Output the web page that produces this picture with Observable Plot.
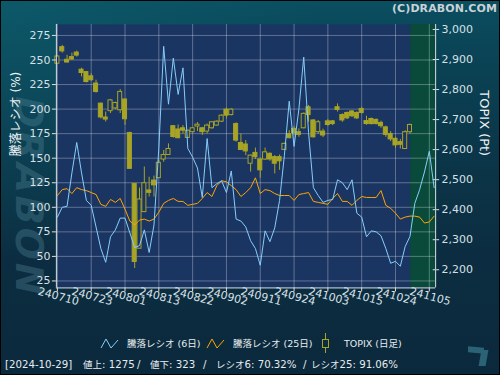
<!DOCTYPE html>
<html><head><meta charset="utf-8">
<script src="https://cdn.jsdelivr.net/npm/d3@7"></script>
<script src="https://cdn.jsdelivr.net/npm/@observablehq/plot@0.6"></script>
<style>
html,body{margin:0;padding:0;background:#0c2a3d;}
#wrap{position:relative;width:500px;height:375px;box-sizing:border-box;border:1px solid #000;overflow:hidden;
 background:
  radial-gradient(ellipse 320px 260px at 0px 0px, rgba(14,96,112,0.55), rgba(14,96,112,0) 100%),
  linear-gradient(180deg,#0a4f61 0%,#0a4557 12%,#0b3649 40%,#0c2d41 68%,#0b293c 100%);
 font-family:"DejaVu Sans","Noto Sans CJK JP",sans-serif;color:#e6ecef;}
#chart{position:absolute;left:-1px;top:-1px;}
.abs{position:absolute;white-space:pre;}
#copy{right:2px;top:1px;font-weight:bold;font-size:11px;color:#c9d2d7;letter-spacing:0.1px;}
#wm{left:28px;top:196px;transform:translate(-50%,-50%) rotate(90deg) skewX(-12deg);font-weight:bold;font-size:38px;letter-spacing:3px;color:rgba(80,130,148,0.38);}
.lg{font-size:9.5px;line-height:12px;color:#e6ecef;}
.ft{top:357px;font-size:10.2px;line-height:14px;color:#e6ecef;}
.ft .cj{font-size:9.5px;}
.logo{position:absolute;background:#2c6276;}
</style></head>
<body>
<div id="wrap">
 <div id="wm" class="abs">DRABON</div>
 <div id="chart"></div>
 <div id="copy" class="abs">(C)DRABON.COM</div>
 <svg class="abs" style="left:99px;top:337px" width="19" height="11"><polyline points="1,10 6,1 11,10 18,2" stroke="#87cefa" fill="none" stroke-width="1"/></svg>
 <div class="abs lg" style="left:126px;top:337px">騰落レシオ (6日)</div>
 <svg class="abs" style="left:205px;top:337px" width="19" height="11"><polyline points="1,10 6,1 11,10 18,2" stroke="#ffa500" fill="none" stroke-width="1"/></svg>
 <div class="abs lg" style="left:232px;top:337px">騰落レシオ (25日)</div>
 <svg class="abs" style="left:320px;top:332px" width="10" height="21"><line x1="4.5" y1="0" x2="4.5" y2="20" stroke="#a8a425"/><rect x="1.5" y="6.5" width="6" height="8" fill="#0c2c40" stroke="#a8a425"/></svg>
 <div class="abs lg" style="left:343px;top:337px">TOPIX (日足)</div>
 <div class="logo" style="left:467px;top:346px;width:16px;height:6px;transform:skewY(6deg);"></div>
 <div class="logo" style="left:479px;top:349px;width:7px;height:16px;transform:skewX(-10deg);"></div>
 <div id="foot"></div>
</div>
<script>
// ---- data ----
const xTickLabels = ["240710","240723","240801","240813","240822","240902","240911","240924","241003","241015","241024","241105"];
const yTicks = [25,50,75,100,125,150,175,200,225,250,275];
const topixTicks = [2200,2300,2400,2500,2600,2700,2800,2900,3000];

const topixOpen  = [2886,2941,2899,2908,2923,2866,2858,2844,2820,2753,2707,2728,2737,2731,2767,2655,2486,2270,2392,2464,2497,2505,2567,2582,2678,2667,2671,2639,2658,2677,2671,2660,2671,2680,2693,2733,2715,2685,2622,2617,2553,2589,2567,2567,2586,2575,2575,2599,2652,2669,2658,2671,2741,2697,2658,2660,2694,2694,2741,2715,2722,2727,2722,2735,2695,2702,2699,2689,2674,2652,2636,2625,2602,2658];
const topixHigh  = [2913,2947,2914,2921,2928,2871,2860,2853,2831,2755,2725,2767,2758,2800,2767,2658,2486,2472,2542,2508,2512,2565,2597,2619,2680,2682,2680,2665,2674,2690,2674,2685,2693,2696,2716,2738,2736,2689,2652,2630,2582,2605,2569,2605,2589,2580,2582,2622,2663,2677,2669,2722,2747,2700,2697,2668,2700,2697,2752,2719,2725,2730,2726,2741,2711,2705,2702,2695,2678,2660,2641,2634,2663,2685];
const topixLow   = [2884,2921,2888,2897,2908,2842,2822,2827,2788,2702,2692,2720,2733,2720,2681,2534,2204,2270,2390,2442,2442,2505,2558,2582,2638,2636,2652,2636,2655,2660,2647,2652,2668,2678,2690,2702,2712,2625,2597,2580,2525,2567,2505,2564,2561,2519,2531,2597,2636,2647,2641,2669,2691,2638,2652,2640,2678,2680,2725,2691,2700,2707,2700,2718,2681,2682,2682,2671,2641,2627,2604,2602,2602,2652];
const topixClose = [2910,2927,2890,2900,2913,2855,2825,2831,2792,2707,2700,2764,2755,2792,2701,2536,2226,2434,2488,2456,2481,2556,2582,2602,2642,2638,2663,2663,2671,2683,2658,2680,2691,2693,2713,2713,2733,2630,2599,2594,2580,2575,2531,2591,2567,2553,2561,2619,2638,2655,2649,2719,2715,2641,2691,2647,2682,2685,2732,2697,2704,2711,2704,2722,2685,2685,2685,2678,2649,2634,2614,2616,2658,2682];

const ratio6  = [90,100,101,135,166,135,107,102,80,58,44,70,77,89,89,74,59,61,77,54,82,160,264,205,252,215,242,160,151,140,110,170,120,124,127,115,137,88,86,80,66,58,41,76,65,79,107,153,208,162,200,253,176,120,112,105,107,108,128,125,118,128,94,90,70,76,75,71,58,43,45,40,60,70.32,104,118,136,157,120];
const ratio25 = [112,118,119,114,120,118,117,115,113,103,101,108,105,109,98,86,82,87,88,86,88,95,104,107,109,106,106,102,103,104,109,115,111,122,127,126,122,118,111,115,120,130,114,118,117,114,112,112,112,107,113,114,115,106,105,104,103,109,114,106,106,102,107,111,110,110,110,117,102,99,94,88,90,91.06,91,90,84,85,91];

const footDate = "2024-10-29", advances = 1275, declines = 323;

// ---- build ----
const nC = topixOpen.length;
const footParts = [
  [`[${footDate}]`, 5],
  [`値上: ${advances}`, 83],
  ["/", 137],
  [`値下: ${declines}`, 150],
  ["/", 203],
  [`レシオ6: ${ratio6[nC-1].toFixed(2)}%`, 216],
  ["/", 303],
  [`レシオ25: ${ratio25[nC-1].toFixed(2)}%`, 311]
];
const foot = document.getElementById("foot");
for (const [t, left] of footParts) {
  const el = document.createElement("div");
  el.className = "abs ft";
  el.style.left = (left - 1) + "px";
  el.innerHTML = t.replace(/([\u3000-\u9fff\uff00-\uffef]+)/g, '<span class="cj">$1</span>');
  foot.append(el);
}

const olive = "#a8a425", plotBg = "#1b3563", greenBg = "#0a4a3b", axisCol = "#d8e0e6";
const candles = d3.range(nC).map(i => ({i, o: topixOpen[i], h: topixHigh[i], l: topixLow[i], c: topixClose[i]}));
const idx = d3.range(ratio6.length);
const T2R = d3.scaleLinear().domain([2200, 3000]).range([36.4, 281.1]);
const xDom = [-0.21, 78.31];
const yDom = [17.9, 286.2];
const tickIdx = xTickLabels.map((_, k) => k * 7);
const up = candles.filter(d => d.c >= d.o), down = candles.filter(d => d.c < d.o);
const bodyX1 = d => d.i - 0.42, bodyX2 = d => d.i + 0.42;

const chart = Plot.plot({
  width: 500, height: 320,
  marginTop: 24, marginBottom: 32, marginLeft: 56, marginRight: 64,
  style: {background: "transparent", color: axisCol, fontFamily: "DejaVu Sans, Noto Sans CJK JP, sans-serif", fontSize: "11px"},
  x: {domain: xDom, axis: null},
  y: {domain: yDom, axis: null},
  marks: [
    Plot.frame({fill: plotBg, stroke: null}),
    Plot.rect([{a: nC - 1 + 0.15, b: xDom[1]}], {x1: "a", x2: "b", fill: greenBg}),
    Plot.gridX({ticks: tickIdx, stroke: "#ffffff", strokeOpacity: 0.3}),
    Plot.gridY({ticks: yTicks, stroke: "#ffffff", strokeOpacity: 0.3}),
    Plot.ruleX(candles, {x: "i", y1: d => T2R(d.l), y2: d => T2R(d.h), stroke: olive}),
    Plot.rect(up, {x1: bodyX1, x2: bodyX2, y1: d => T2R(d.o), y2: d => T2R(d.c), fill: plotBg, stroke: olive}),
    Plot.rect(down, {x1: bodyX1, x2: bodyX2, y1: d => T2R(d.c), y2: d => T2R(d.o), fill: olive, stroke: olive}),
    Plot.line(idx, {x: d => d, y: d => ratio25[d], stroke: "#ffa500", strokeWidth: 1}),
    Plot.line(idx, {x: d => d, y: d => ratio6[d], stroke: "#87cefa", strokeWidth: 1}),
    Plot.ruleX([xDom[0], xDom[1]], {stroke: axisCol}),
    Plot.ruleY([yDom[0]], {stroke: axisCol}),
    Plot.ruleY(topixTicks.map(T2R), {y: d => d, x1: xDom[1] - 0.5, x2: xDom[1], stroke: axisCol}),
    Plot.axisY({anchor: "left", ticks: yTicks, tickSize: 4, tickPadding: 2, label: null, fontSize: 11}),
    Plot.axisY({anchor: "right", ticks: topixTicks.map(T2R), tickFormat: d => d3.format(",")(Math.round(T2R.invert(d))), tickSize: 3, tickPadding: 3, label: null, fontSize: 11}),
    Plot.axisX({ticks: tickIdx, tickFormat: () => "", tickSize: 4, label: null}),
    Plot.text(tickIdx, {x: d => d, text: (d, k) => xTickLabels[k], frameAnchor: "bottom", dy: 12, rotate: 15, fontSize: 11, fill: axisCol}),
    Plot.text(["騰落レシオ (%)"], {frameAnchor: "left", dx: -40, rotate: -90, fontSize: 12, fill: "#eef2f4"}),
    Plot.text(["TOPIX (Pt)"], {frameAnchor: "right", dx: 49, rotate: 90, fontSize: 13, fill: "#eef2f4"})
  ]
});
document.getElementById("chart").append(chart);
</script>
</body></html>
